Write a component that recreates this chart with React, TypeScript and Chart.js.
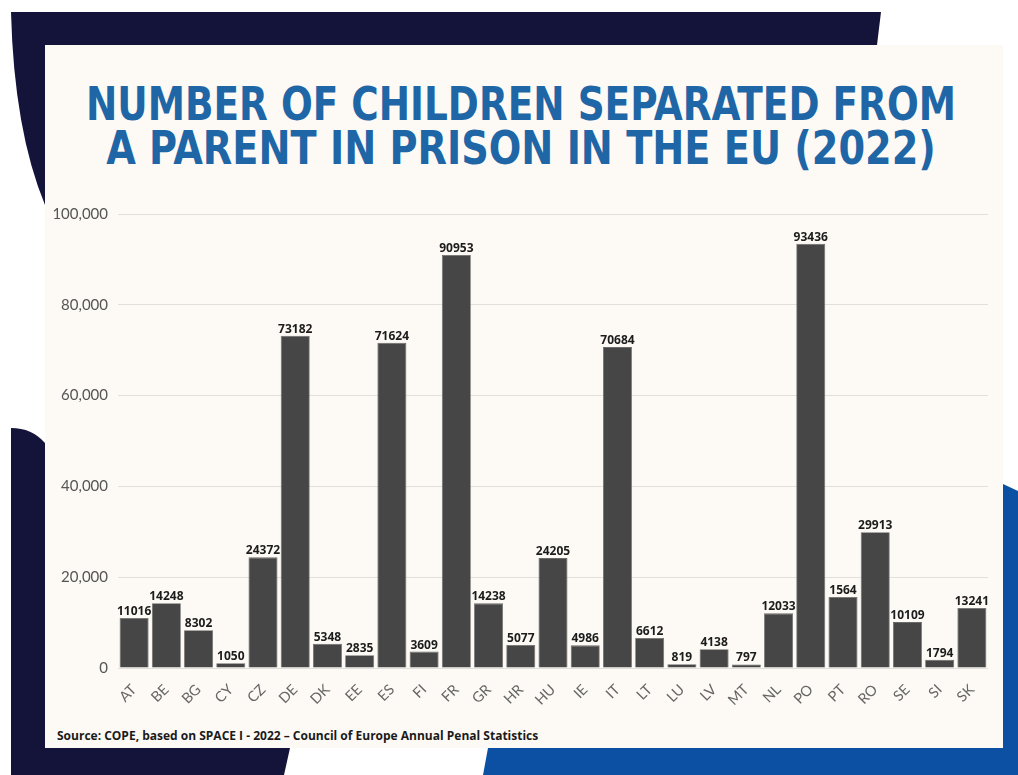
import React, { useEffect, useRef } from "react";
import { Chart, registerables } from "chart.js";

Chart.register(...registerables);

const categories = ["AT","BE","BG","CY","CZ","DE","DK","EE","ES","FI","FR","GR","HR","HU","IE","IT","LT","LU","LV","MT","NL","PO","PT","RO","SE","SI","SK"];
const values = [11016,14248,8302,1050,24372,73182,5348,2835,71624,3609,90953,14238,5077,24205,4986,70684,6612,819,4138,797,12033,93436,15640,29913,10109,1794,13241];
const valueLabels = ["11016","14248","8302","1050","24372","73182","5348","2835","71624","3609","90953","14238","5077","24205","4986","70684","6612","819","4138","797","12033","93436","1564","29913","10109","1794","13241"];
const yMin = 0;
const yMax = 100000;
const yStep = 20000;

const titleLines = ["NUMBER OF CHILDREN SEPARATED FROM", "A PARENT IN PRISON IN THE EU (2022)"];
const titleScales = [0.885, 0.905];
const sourceText = "Source: COPE, based on SPACE I - 2022 \u2013 Council of Europe Annual Penal Statistics";

const barLabelPlugin = {
  id: "barLabels",
  afterDatasetsDraw(chart: any) {
    const ctx = chart.ctx;
    const meta = chart.getDatasetMeta(0);
    ctx.save();
    ctx.font = 'bold 12px "Open Sans", "DejaVu Sans", sans-serif';
    ctx.fillStyle = "#1c1c1c";
    ctx.textAlign = "center";
    ctx.textBaseline = "alphabetic";
    meta.data.forEach((bar: any, i: number) => {
      ctx.fillText(valueLabels[i], bar.x, bar.y - 3);
    });
    ctx.restore();
  },
};

function BarChart() {
  const ref = useRef<HTMLCanvasElement | null>(null);
  useEffect(() => {
    if (!ref.current) return;
    const chart = new Chart(ref.current, {
      type: "bar",
      data: {
        labels: categories,
        datasets: [
          {
            data: values,
            backgroundColor: "#464646",
            borderColor: "#6a6a6a",
            borderWidth: 0.8,
            categoryPercentage: 1,
            barPercentage: 0.9,
          },
        ],
      },
      options: {
        responsive: false,
        animation: false,
        layout: { padding: { top: 19, left: 0, right: 15, bottom: 0 } },
        plugins: { legend: { display: false }, tooltip: { enabled: false } },
        scales: {
          y: {
            min: yMin,
            max: yMax,
            ticks: {
              stepSize: yStep,
              padding: 10,
              color: "#555555",
              font: { family: "Lato, 'Open Sans', sans-serif", size: 15 },
              callback: (v: any) => Number(v).toLocaleString("en-US"),
            },
            grid: { color: "#e3e0db", lineWidth: 1, drawTicks: false },
            border: { display: false },
            afterFit: (s: any) => { s.width = 73; },
          },
          x: {
            grid: { display: false },
            border: { display: false },
            ticks: {
              maxRotation: 45,
              minRotation: 45,
              padding: 5,
              color: "#666666",
              font: { family: "Lato, 'Open Sans', sans-serif", size: 14.5 },
            },
            afterFit: (s: any) => { s.height = 57; },
          },
        },
      },
      plugins: [barLabelPlugin],
    });
    return () => chart.destroy();
  }, []);
  return <canvas ref={ref} width={958} height={530} style={{ width: 958, height: 530, display: "block" }} />;
}

export default function App() {
  return (
    <div style={{ position: "fixed", left: 0, top: 0, width: 1018, height: 775, background: "#ffffff", overflow: "hidden" }}>
      <svg width={1018} height={775} style={{ position: "absolute", left: 0, top: 0 }}>
        <path d="M11,12 L881,12 L877,45 L45,45 L45,205 Q14,130 11,12 Z" fill="#14133a" />
        <path d="M11,428 Q32,428 45,443 L45,748 L290,748 L284,775 L11,775 Z" fill="#14133a" />
        <path d="M488,748 L1003,748 L1003,484 L1018,491 L1018,775 L483,775 Z" fill="#0b50a3" />
        <rect x={45} y={45} width={958} height={703} fill="#fdfaf5" />
      </svg>
      <div
        style={{
          position: "absolute",
          left: 0,
          top: 82,
          width: 1042,
          textAlign: "center",
          fontFamily: "'DejaVu Sans Condensed', sans-serif",
          fontWeight: "bold",
          fontSize: 47,
          lineHeight: "44px",
          color: "#1f66a6",
          whiteSpace: "nowrap",
        }}
      >
        {titleLines.map((t, i) => (
          <div key={t} style={{ transform: `scaleX(${titleScales[i]})`, transformOrigin: "521px 0px" }}>{t}</div>
        ))}
      </div>
      <div style={{ position: "absolute", left: 45, top: 195 }}>
        <BarChart />
      </div>
      <div
        style={{
          position: "absolute",
          left: 57,
          top: 729,
          fontFamily: "'Open Sans', sans-serif",
          fontWeight: "bold",
          fontSize: 12,
          lineHeight: "14px",
          color: "#1a1a1a",
          whiteSpace: "nowrap",
        }}
      >
        {sourceText}
      </div>
    </div>
  );
}
